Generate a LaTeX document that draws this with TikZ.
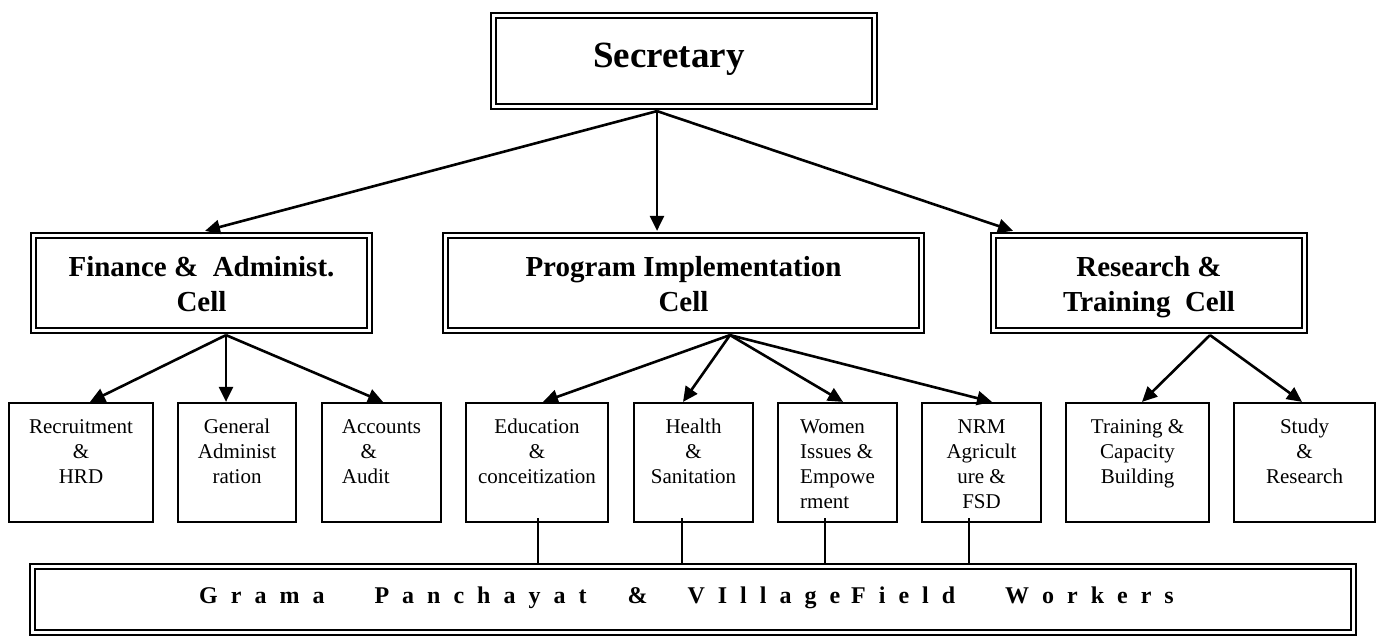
\documentclass[tikz,border=0pt]{standalone}
\usepackage{fontspec}
\setmainfont{Liberation Serif}
\usetikzlibrary{arrows.meta}
\newlength\lsp \setlength\lsp{13pt}
\makeatletter
\newcommand\spout[1]{\spout@#1\@nil}
\def\spout@#1{\ifx\@nil#1\else#1\hspace{\lsp}\expandafter\spout@\fi}
\makeatother
\begin{document}
\begin{tikzpicture}[x=1pt,y=-1pt,
  dbox/.style={draw, double, line width=2.2pt, double distance=2.6pt, inner sep=0pt, rectangle},
  head/.style={dbox, minimum height=95pt, font=\fontsize{29}{35.7}\selectfont\bfseries, text height=0pt, text depth=14pt},
  sbox/.style={draw, line width=2.2pt, inner sep=0pt, minimum height=119pt, font=\fontsize{21}{25}\selectfont, text height=0pt, text depth=59pt},
  arr/.style={line width=2.6pt, -{Triangle[length=15pt,width=14pt]}},
  link/.style={line width=1.4pt}]
\useasboundingbox (0,0) rectangle (1380,637);

% top
\node[dbox, minimum width=381pt, minimum height=91pt, font=\fontsize{37}{44}\selectfont\bfseries, text height=12pt, text depth=0pt] (sec) at (684,61) {Secretary\hspace*{30pt}};

% cells
\node[head, minimum width=336pt] (fin) at (201.5,283) {\begin{tabular}[t]{@{}c@{}}Finance \&\ \ Administ.\\Cell\end{tabular}};
\node[head, minimum width=476pt] (prog) at (683.5,283) {\begin{tabular}[t]{@{}c@{}}Program Implementation\\Cell\end{tabular}};
\node[head, minimum width=311pt] (res) at (1149,283) {\begin{tabular}[t]{@{}c@{}}Research \&\\Training\ \ Cell\end{tabular}};

% units
\node[sbox, minimum width=143.8pt] (rec) at (81,462.5) {\begin{tabular}[t]{@{}c@{}}Recruitment\\\&\\HRD\end{tabular}};
\node[sbox, minimum width=117.8pt] (gen) at (237,462.5) {\begin{tabular}[t]{@{}c@{}}General\\Administ\\ration\end{tabular}};
\node[sbox, minimum width=118.8pt] (acc) at (381.5,462.5) {\begin{tabular}[t]{@{}l@{}}Accounts\\\hspace*{0.9em}\&\\Audit\end{tabular}};
\node[sbox, minimum width=141.8pt] (edu) at (537,462.5) {\begin{tabular}[t]{@{}c@{}}Education\\\&\\conceitization\end{tabular}};
\node[sbox, minimum width=118.8pt] (hs) at (693.5,462.5) {\begin{tabular}[t]{@{}c@{}}Health\\\&\\Sanitation\end{tabular}};
\node[sbox, minimum width=118.8pt] (wm) at (837.5,462.5) {\begin{tabular}[t]{@{}l@{}}Women\\Issues \&\\Empowe\\rment\end{tabular}};
\node[sbox, minimum width=118.8pt] (nrm) at (981.5,462.5) {\begin{tabular}[t]{@{}c@{}}NRM\\Agricult\\ure \&\\FSD\end{tabular}};
\node[sbox, minimum width=142.8pt] (tr) at (1137.5,462.5) {\begin{tabular}[t]{@{}c@{}}Training \&\\Capacity\\Building\end{tabular}};
\node[sbox, minimum width=140.8pt] (st) at (1304.5,462.5) {\begin{tabular}[t]{@{}c@{}}Study\\\&\\Research\end{tabular}};

% bottom
\node[dbox, minimum width=1321pt, minimum height=66pt, font=\fontsize{24}{28}\selectfont\bfseries, text height=7.6pt, text depth=0pt] (gp) at (693,599.5)
  {\spout{Grama}\hspace{37pt}\spout{Panchayat}\hspace{28pt}\spout{\&}\hspace{27pt}\spout{VIllage}\hspace{-2pt}\spout{Field}\hspace{37pt}\spout{Workers}\hspace{-\lsp}};

% arrows from secretary
\draw[arr] ([xshift=-27pt,yshift=-3.5pt]sec.south) -- ([xshift=3.5pt,yshift=3.5pt]fin.north);
\draw[arr] ([xshift=-27pt,yshift=-3.5pt]sec.south) -- ([xshift=-26.5pt,yshift=3.5pt]prog.north);
\draw[arr] ([xshift=-27pt,yshift=-3.5pt]sec.south) -- ([xshift=-136pt,yshift=3.5pt]res.north);

% finance children
\draw[arr] ([xshift=24.5pt,yshift=-3.5pt]fin.south) -- ([xshift=9pt]rec.north);
\draw[arr] ([xshift=24.5pt,yshift=-3.5pt]fin.south) -- ([xshift=-11pt]gen.north);
\draw[arr] ([xshift=24.5pt,yshift=-3.5pt]fin.south) -- ([xshift=1.5pt]acc.north);

% program children
\draw[arr] ([xshift=46.5pt,yshift=-3.5pt]prog.south) -- ([xshift=6pt]edu.north);
\draw[arr] ([xshift=46.5pt,yshift=-3.5pt]prog.south) -- ([xshift=-10.5pt]hs.north);
\draw[arr] ([xshift=46.5pt,yshift=-3.5pt]prog.south) -- ([xshift=5.5pt]wm.north);
\draw[arr] ([xshift=46.5pt,yshift=-3.5pt]prog.south) -- ([xshift=10.5pt]nrm.north);

% research children
\draw[arr] ([xshift=61pt,yshift=-3.5pt]res.south) -- ([xshift=4.5pt]tr.north);
\draw[arr] ([xshift=61pt,yshift=-3.5pt]res.south) -- ([xshift=-2.5pt]st.north);

% links to field workers
\coordinate (edu-b) at ([xshift=1pt,yshift=5pt]edu.south);
\coordinate (hs-b) at ([xshift=-11.5pt,yshift=5pt]hs.south);
\coordinate (wm-b) at ([xshift=-12.5pt,yshift=5pt]wm.south);
\coordinate (nrm-b) at ([xshift=-12.5pt,yshift=5pt]nrm.south);
\draw[link] (edu-b) -- (edu-b |- gp.north);
\draw[link] (hs-b) -- (hs-b |- gp.north);
\draw[link] (wm-b) -- (wm-b |- gp.north);
\draw[link] (nrm-b) -- (nrm-b |- gp.north);
\end{tikzpicture}
\end{document}
